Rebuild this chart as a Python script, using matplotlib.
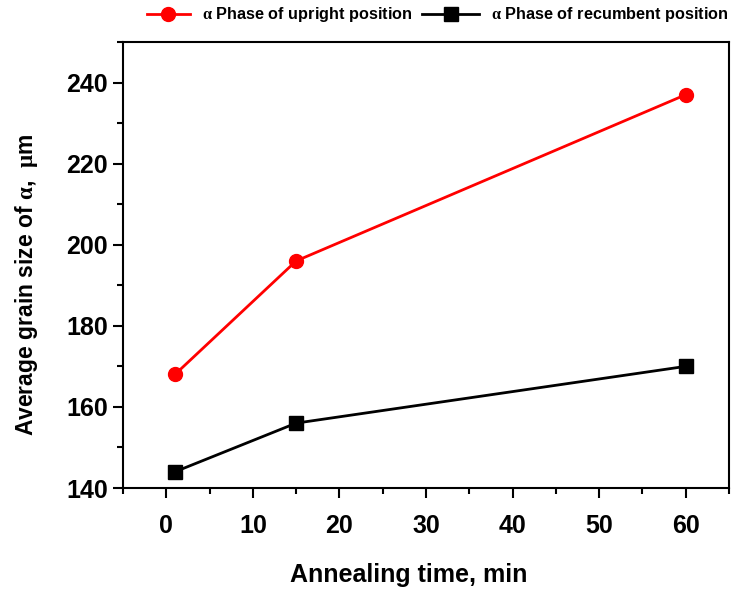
import matplotlib.pyplot as plt
from matplotlib.ticker import MultipleLocator
from matplotlib.legend_handler import HandlerLine2D

plt.rcParams['font.family'] = ['Liberation Sans', 'DejaVu Sans']
plt.rcParams['font.weight'] = 'bold'
plt.rcParams['mathtext.fontset'] = 'custom'
plt.rcParams['mathtext.rm'] = 'Liberation Serif'

time_min = [1, 15, 60]
upright = [168, 196, 237]
recumbent = [144, 156, 170]


class ShortLeftHandler(HandlerLine2D):
    # shorter line with the marker sitting near its left end
    def get_xdata(self, legend, xdescent, ydescent, width, height, fontsize):
        x0 = -xdescent
        return [x0 + 0.24 * width, x0 + width], [x0 + 0.5 * width]


fig = plt.figure(figsize=(7.31, 5.89), dpi=100)
ax = fig.add_axes([123 / 731, 1 - 488 / 589, 606 / 731, 446 / 589])

l1, = ax.plot(time_min, upright, color='red', lw=2, marker='o', ms=10,
              label=r'$\mathrm{\alpha}$ Phase of upright position')
l2, = ax.plot(time_min, recumbent, color='black', lw=2, marker='s', ms=9.5,
              label=r'$\mathrm{\alpha}$ Phase of recumbent position')

ax.set_xlim(-5, 65)
ax.set_ylim(140, 250)
ax.xaxis.set_major_locator(MultipleLocator(10))
ax.xaxis.set_minor_locator(MultipleLocator(5))
ax.yaxis.set_major_locator(MultipleLocator(20))
ax.yaxis.set_minor_locator(MultipleLocator(10))
ax.set_yticks([140, 160, 180, 200, 220, 240])
ax.tick_params(which='major', direction='out', length=7, width=1.5, labelsize=18)
ax.tick_params(axis='x', which='major', pad=12)
ax.tick_params(axis='y', which='major', pad=4)
ax.tick_params(which='minor', direction='out', length=4, width=1.5)
for s in ax.spines.values():
    s.set_linewidth(1.5)

ax.set_xlabel('Annealing time, min', fontsize=18, fontweight='bold', labelpad=18)
ax.xaxis.label.set_x(0.472)
ax.set_ylabel(r'Average grain size of $\mathrm{\alpha}$,  $\mathrm{\mu}$m', fontsize=16.5,
              fontweight='bold', labelpad=19)
ax.yaxis.label.set_y(0.455)

ax.legend(handles=[l1, l2], handler_map={l1: ShortLeftHandler()},
          loc='center right', bbox_to_anchor=(729 / 731, 1 - 15 / 589),
          bbox_transform=fig.transFigure, ncol=2, frameon=False,
          fontsize=11.7, handlelength=3.5, columnspacing=0.6, handletextpad=0.75,
          borderaxespad=0, borderpad=0)

fig.savefig('out.png', dpi=100)
